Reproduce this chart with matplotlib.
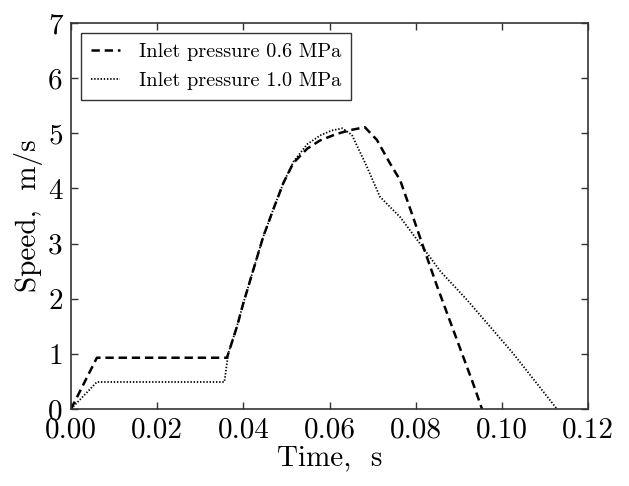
import matplotlib
matplotlib.use('Agg')
import matplotlib.pyplot as plt

plt.rcParams['font.family'] = 'serif'
plt.rcParams['font.serif'] = ['cmr10']
plt.rcParams['mathtext.fontset'] = 'cm'
plt.rcParams['axes.unicode_minus'] = False
plt.rcParams['lines.scale_dashes'] = False

# speed vs time
t_06 = [0, 0.006, 0.0362, 0.0385, 0.0400, 0.0423, 0.0446, 0.0469, 0.0493, 0.0516,
        0.0548, 0.0578, 0.0617, 0.065, 0.0682, 0.071, 0.074, 0.0764, 0.0794, 0.0815,
        0.085, 0.0896, 0.0933, 0.0954]
v_06 = [0, 0.93, 0.93, 1.49, 1.92, 2.52, 3.12, 3.61, 4.10, 4.46,
        4.72, 4.87, 4.99, 5.06, 5.11, 4.88, 4.46, 4.15, 3.48, 3.0,
        2.22, 1.25, 0.47, 0]

t_10 = [0, 0.006, 0.0356, 0.0365, 0.0385, 0.0400, 0.0423, 0.0446, 0.0469, 0.0493,
        0.0516, 0.0548, 0.0578, 0.0605, 0.0630, 0.0652, 0.0687, 0.0717, 0.0764, 0.081,
        0.0857, 0.0919, 0.1026, 0.1128]
v_10 = [0, 0.49, 0.49, 1.01, 1.49, 1.92, 2.52, 3.12, 3.61, 4.10,
        4.48, 4.80, 4.96, 5.05, 5.09, 4.97, 4.39, 3.85, 3.48, 3.0,
        2.50, 1.98, 1.01, 0]

labels = ['Inlet pressure 0.6 MPa', 'Inlet pressure 1.0 MPa']

fig = plt.figure(figsize=(6.29, 4.86), dpi=100)
ax = fig.add_axes([0.1129, 0.1584, 0.8219, 0.7943])

ax.plot(t_06, v_06, color='black', lw=1.8, dashes=(6, 3.5), label=labels[0])
ax.plot(t_10, v_10, color='black', lw=1.3, dashes=(1, 1.3), label=labels[1])

ax.set_xlim(0, 0.12)
ax.set_ylim(0, 7)
ax.set_xticks([0, 0.02, 0.04, 0.06, 0.08, 0.10, 0.12])
ax.set_xticklabels(['0.00', '0.02', '0.04', '0.06', '0.08', '0.10', '0.12'])
ax.set_yticks(range(0, 8))
ax.tick_params(direction='in', top=True, right=True, length=5, width=1,
               labelsize=21, pad=6, color='#333333')
for s in ax.spines.values():
    s.set_color('#333333')
    s.set_linewidth(1.2)

ax.set_xlabel('Time,  s', fontsize=21, labelpad=1)
ax.set_ylabel('Speed,  m/s', fontsize=21, labelpad=4)

leg = ax.legend(loc='upper left', fontsize=14.6, fancybox=False, framealpha=1,
                edgecolor='#333333', handlelength=1.4, handletextpad=0.95,
                borderpad=0.5, labelspacing=0.5, borderaxespad=0.5)
leg.get_frame().set_linewidth(1.0)

plt.savefig('out.png', dpi=100)
